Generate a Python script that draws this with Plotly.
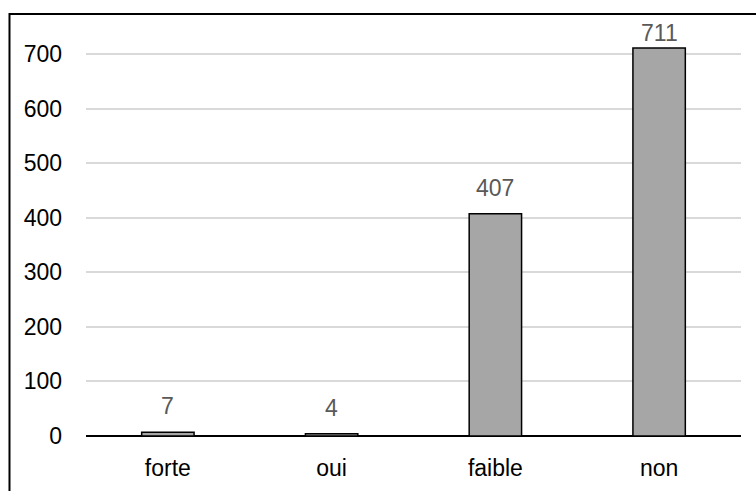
import plotly.graph_objects as go

# Response categories and their counts
categories = ["forte", "oui", "faible", "non"]
counts = [7, 4, 407, 711]
y_ticks = [0, 100, 200, 300, 400, 500, 600, 700]

FONT = "Liberation Sans"
BAR_FILL = "#A6A6A6"
GRID = "#D9D9D9"
LABEL_GREY = "#595959"

Y_MAX = 720
LABEL_GAP = 20        # data units between bar top and its label box
LABEL_CEILING = 711   # labels cannot rise above this level

fig = go.Figure()
fig.add_trace(go.Bar(
    x=categories,
    y=counts,
    marker=dict(color=BAR_FILL, line=dict(color="#000000", width=1.5)),
    width=0.32,
    hoverinfo="skip",
))

for cat, v in zip(categories, counts):
    fig.add_annotation(
        x=cat, y=min(v + LABEL_GAP, LABEL_CEILING),
        text=str(v), showarrow=False, yanchor="bottom", xanchor="center",
        font=dict(family=FONT, size=23, color=LABEL_GREY),
    )

# chart border (runs off the right and bottom edges)
fig.add_shape(type="rect", xref="paper", yref="paper",
              x0=-0.1168, x1=1.2, y0=-0.3, y1=1.0738,
              line=dict(color="#000000", width=2), fillcolor="rgba(0,0,0,0)",
              layer="above")

fig.update_layout(
    width=756, height=491,
    margin=dict(l=86, r=15, t=43, b=55),
    paper_bgcolor="white", plot_bgcolor="white",
    showlegend=False,
    bargap=0.68,
    xaxis=dict(
        showgrid=False, showline=False, zeroline=False, automargin=False,
        ticks="", ticklabelstandoff=16,
        tickfont=dict(family=FONT, size=23, color="#000000"),
    ),
    yaxis=dict(
        range=[0, Y_MAX], tickvals=y_ticks, automargin=False,
        showgrid=True, gridcolor=GRID, gridwidth=1.5,
        zeroline=True, zerolinecolor="#000000", zerolinewidth=1.5,
        showline=False, ticks="", ticklabelstandoff=23,
        tickfont=dict(family=FONT, size=23, color="#000000"),
    ),
)

fig.write_html("out.html")
